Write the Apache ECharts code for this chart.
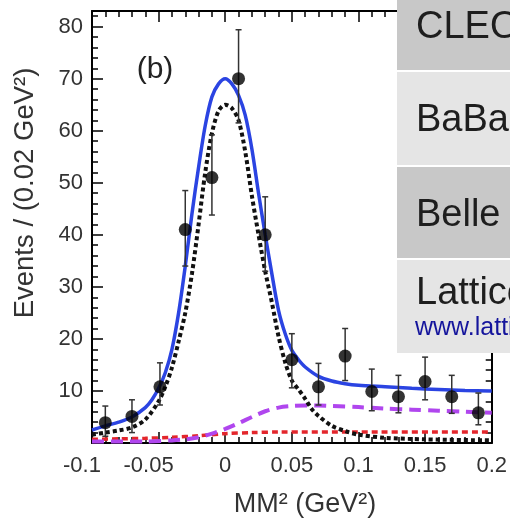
<!DOCTYPE html>
<html><head><meta charset="utf-8">
<script src="https://cdn.jsdelivr.net/npm/echarts@6/dist/echarts.min.js"></script>
<style>html,body{margin:0;padding:0;background:#fff}#c{width:510px;height:523px}</style>
</head><body><div id="c"></div>
<script>
// ---- tick labels ----
const xTickValues = [-0.1, -0.05, 0, 0.05, 0.1, 0.15, 0.2];
const xTickLabels = ['-0.1', '-0.05', '0', '0.05', '0.1', '0.15', '0.2'];
const yTickValues = [0, 10, 20, 30, 40, 50, 60, 70, 80];
const yTickLabels = ['', '10', '20', '30', '40', '50', '60', '70', '80'];

// ---- data points (bin centres, counts, error bar ends) ----
const binX   = [-0.09, -0.07, -0.049, -0.03, -0.01, 0.01, 0.03, 0.05, 0.07, 0.09, 0.11, 0.13, 0.15, 0.17, 0.19];
const counts = [3.9, 5.1, 10.8, 41, 51, 70, 40, 16, 10.8, 16.7, 9.9, 8.9, 11.8, 8.9, 5.8];
const errLo  = [1.3, 2.0, 7.3, 34, 43.8, 61.5, 33, 10.6, 7.3, 12, 6.2, 5.8, 8.3, 5.7, 3.5];
const errHi  = [7.1, 8.3, 15.4, 48.5, 59.2, 79.4, 47.3, 21, 15.3, 22, 14.2, 13, 16.5, 13, 9.6];

// ---- total fit (blue solid) ----
const fitX = [-0.1, -0.09, -0.08, -0.07, -0.06, -0.055, -0.05, -0.045, -0.04, -0.035, -0.03, -0.025, -0.02, -0.015, -0.01, -0.005, 0, 0.005, 0.01, 0.015, 0.02, 0.025, 0.03, 0.035, 0.04, 0.045, 0.05, 0.055, 0.06, 0.07, 0.08, 0.09, 0.1, 0.12, 0.14, 0.16, 0.18, 0.2];
const fitY = [2.5, 3.3, 4.0, 5.0, 6.8, 8.3, 10.5, 13.5, 18, 25, 34, 44, 53, 61, 66.5, 69, 70, 69, 66.8, 63, 56.5, 48, 40, 32.5, 25.5, 21, 17.8, 16, 14.6, 12.8, 11.9, 11.4, 11.1, 10.8, 10.5, 10.3, 10.1, 10.0];

// ---- signal (black dotted) ----
const sigX = [-0.1, -0.09, -0.08, -0.07, -0.06, -0.05, -0.045, -0.04, -0.035, -0.03, -0.025, -0.02, -0.015, -0.01, -0.005, 0, 0.005, 0.01, 0.015, 0.02, 0.025, 0.03, 0.035, 0.04, 0.045, 0.05, 0.055, 0.06, 0.065, 0.07, 0.08, 0.09, 0.1, 0.12, 0.15, 0.2];
const sigY = [1.6, 2.0, 2.4, 3.0, 4.5, 8.0, 10.8, 14.5, 19.5, 25, 32.5, 42, 52, 59.5, 63.8, 65, 64.3, 62, 56, 47.5, 40, 33, 27, 20.5, 15.5, 12, 10.3, 8.5, 6.5, 5.2, 3.3, 2.3, 1.6, 1.0, 0.7, 0.5];

// ---- background 1 (purple dashed) ----
const bkgX = [-0.1, -0.06, -0.04, -0.03, -0.02, -0.01, 0, 0.01, 0.02, 0.03, 0.04, 0.05, 0.06, 0.07, 0.08, 0.1, 0.12, 0.14, 0.16, 0.18, 0.2];
const bkgY = [0.3, 0.3, 0.5, 0.7, 1.1, 1.8, 2.7, 3.8, 5.0, 6.1, 6.8, 7.1, 7.2, 7.2, 7.1, 6.9, 6.6, 6.4, 6.2, 6.0, 5.8];

// ---- background 2 (red dotted) ----
const bkg2X = [-0.1, -0.08, -0.06, -0.04, -0.02, 0, 0.02, 0.04, 0.1, 0.2];
const bkg2Y = [0.7, 0.8, 0.9, 1.1, 1.4, 1.8, 2.0, 2.1, 2.1, 2.1];

// ---- overlay table ----
const tableRows = ['CLEO', 'BaBar', 'Belle', 'Lattice'];
const linkText = 'www.lattice';

const FONT = '"Liberation Sans", Arial, Helvetica, sans-serif';
const zip = (a, b) => a.map((v, i) => [v, b[i]]);

function xLabel(v) {
  let k = xTickValues.findIndex(t => Math.abs(t - v) < 1e-9);
  if (k < 0) return '';
  const s = xTickLabels[k];
  return s.charAt(0) === '-' ? '{n|' + s + '}' : s;
}
function yLabel(v) {
  let k = yTickValues.findIndex(t => Math.abs(t - v) < 1e-9);
  return k < 0 ? '' : yTickLabels[k];
}

const chart = echarts.init(document.getElementById('c'), null, {renderer: 'canvas'});
const axisLine = {show: true, onZero: false, lineStyle: {color: '#000', width: 2}};
const tick = {show: true, inside: true, length: 11, lineStyle: {color: '#000', width: 1.5}};
const minor = {show: true, splitNumber: 5, length: 6, lineStyle: {color: '#000', width: 1.5}};

const rowTops = [0, 72, 167, 260];
const rowBottoms = [70, 165, 258, 353];
const rowFills = ['#c8c8c8', '#e5e5e5', '#c8c8c8', '#e5e5e5'];
const rowTextY = [27.3, 120.8, 215.8, 293.3];

const graphics = [
  {type: 'text', x: 155, y: 69.5, z: 10, style: {text: '(b)', font: '30px ' + FONT, fill: '#222', textAlign: 'center', textVerticalAlign: 'middle'}},
  {type: 'text', x: 305, y: 504.5, z: 10, style: {text: 'MM² (GeV²)', font: '27px ' + FONT, fill: '#333', textAlign: 'center', textVerticalAlign: 'middle'}},
  {type: 'text', x: 25, y: 193, rotation: Math.PI / 2, z: 10, style: {text: 'Events / (0.02 GeV²)', font: '27.5px ' + FONT, fill: '#333', textAlign: 'center', textVerticalAlign: 'middle'}},
  {type: 'rect', shape: {x: 397, y: 0, width: 113, height: 353}, style: {fill: '#fff'}, z: 100}
];
tableRows.forEach((name, i) => {
  graphics.push({type: 'rect', shape: {x: 397, y: rowTops[i], width: 113, height: rowBottoms[i] - rowTops[i]}, style: {fill: rowFills[i]}, z: 101});
  graphics.push({type: 'text', x: 416, y: rowTextY[i], z: 102, style: {text: name, font: '38px ' + FONT, fill: '#1e1e1e', textAlign: 'left', textVerticalAlign: 'middle'}});
});
graphics.push({type: 'text', x: 415, y: 328.5, z: 102, style: {text: linkText, font: '25px ' + FONT, fill: '#14149c', textAlign: 'left', textVerticalAlign: 'middle'}});

const option = {
  animation: false,
  backgroundColor: '#fff',
  grid: {left: 92, right: 14, top: 11, bottom: 80, containLabel: false},
  xAxis: [
    {type: 'value', min: -0.1, max: 0.2, interval: 0.05, position: 'bottom',
     axisLine, axisTick: tick, minorTick: minor, splitLine: {show: false},
     axisLabel: {margin: 12, color: '#333', fontFamily: FONT, fontSize: 22, formatter: xLabel,
                 rich: {n: {fontFamily: FONT, fontSize: 22, color: '#333', padding: [0, 20, 0, 0]}}}},
    {type: 'value', min: -0.1, max: 0.2, interval: 0.05, position: 'top',
     axisLine, axisTick: tick, minorTick: minor, splitLine: {show: false}, axisLabel: {show: false}}
  ],
  yAxis: [
    {type: 'value', min: 0, max: 83, interval: 10, position: 'left',
     axisLine, axisTick: tick, minorTick: minor, splitLine: {show: false},
     axisLabel: {margin: 9, color: '#333', fontFamily: FONT, fontSize: 22, formatter: yLabel, showMaxLabel: false}},
    {type: 'value', min: 0, max: 83, interval: 10, position: 'right',
     axisLine, axisTick: tick, minorTick: minor, splitLine: {show: false}, axisLabel: {show: false}}
  ],
  series: [
    {type: 'line', data: zip(bkg2X, bkg2Y), symbol: 'none', smooth: 0.3, z: 2,
     lineStyle: {color: '#e3262c', width: 3.5, type: [6, 4]}},
    {type: 'line', data: zip(bkgX, bkgY), symbol: 'none', smooth: 0.3, z: 3,
     lineStyle: {color: '#b046ee', width: 4, type: [12, 7]}},
    {type: 'line', data: zip(sigX, sigY), symbol: 'none', smooth: 0.3, z: 4,
     lineStyle: {color: '#111', width: 4, type: [4, 3]}},
    {type: 'line', data: zip(fitX, fitY), symbol: 'none', smooth: 0.3, z: 5,
     lineStyle: {color: '#2b44e2', width: 3.5}},
    {type: 'custom', z: 6, data: binX.map((x, i) => [x, errLo[i], errHi[i]]),
     encode: {x: 0, y: [1, 2]},
     renderItem: function (params, api) {
       const x = api.value(0), lo = api.value(1), hi = api.value(2);
       const p1 = api.coord([x, lo]), p2 = api.coord([x, hi]);
       const cw = 3, st = {stroke: '#333', lineWidth: 1.5};
       return {type: 'group', children: [
         {type: 'line', shape: {x1: p1[0], y1: p1[1], x2: p2[0], y2: p2[1]}, style: st},
         {type: 'line', shape: {x1: p2[0] - cw, y1: p2[1], x2: p2[0] + cw, y2: p2[1]}, style: st},
         {type: 'line', shape: {x1: p1[0] - cw, y1: p1[1], x2: p1[0] + cw, y2: p1[1]}, style: st}
       ]};
     }},
    {type: 'scatter', data: zip(binX, counts), symbol: 'circle', symbolSize: 13, z: 7,
     itemStyle: {color: '#000'}}
  ],
  graphic: graphics
};
chart.setOption(option);
</script>
</body></html>
